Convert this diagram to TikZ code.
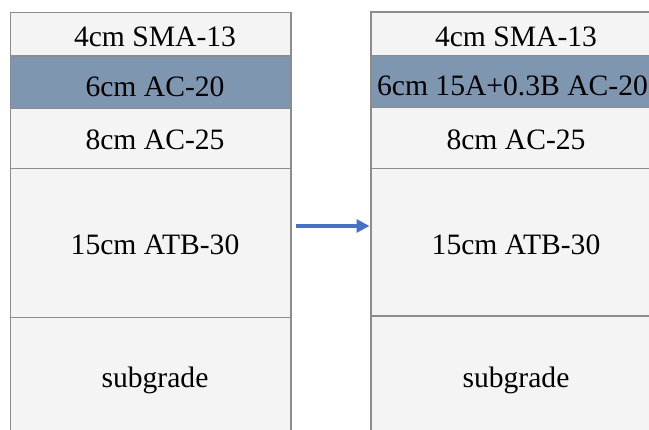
\documentclass[tikz,border=0pt]{standalone}
\usepackage{fontspec}
\setmainfont{Liberation Serif}
\usetikzlibrary{arrows.meta}
\definecolor{layergray}{HTML}{F4F4F4}
\definecolor{layerblue}{HTML}{7F96B1}
\definecolor{edgegray}{HTML}{8C8C8C}
\definecolor{arrowblue}{HTML}{4472C4}
\begin{document}
\begin{tikzpicture}[x=1pt,y=-1pt,
  layer/.style={fill=layergray,draw=edgegray,line width=1.5pt},
  modlayer/.style={layer,fill=layerblue},
  txt/.style={font=\fontsize{29.6}{34}\selectfont,anchor=base,inner sep=0pt},
]
\useasboundingbox (0,0) rectangle (649,430);
\clip (0,0) rectangle (649,430);

% original pavement structure
\draw[layer]    (10.5,12.7) rectangle (291,56);
\draw[modlayer] (10.5,56)   rectangle (291,108.3);
\draw[layer]    (10.5,108.3) rectangle (291,168.3);
\draw[layer]    (10.5,168.3) rectangle (291,317.5);
\draw[layer]    (10.5,317.5) rectangle (291,445);

\node[txt] (l1) at (155,46.5)  {4cm SMA-13};
\node[txt] (l2) at (155,96.5)  {6cm AC-20};
\node[txt] (l3) at (155,150)   {8cm AC-25};
\node[txt] (l4) at (155,254.5) {15cm ATB-30};
\node[txt] (l5) at (155,388)   {subgrade};

% modified pavement structure
\draw[layer]    (371,12.2) rectangle (662,55.3);
\draw[modlayer] (371,55.3) rectangle (662,107.5);
\draw[layer]    (371,107.5) rectangle (662,168.3);
\draw[layer]    (371,168.3) rectangle (662,316);
\draw[layer]    (371,316)   rectangle (662,445);

\node[txt] (r1) at (516,46.5)  {4cm SMA-13};
\node[txt] (r2) at (512.5,96)  {6cm 15A+0.3B AC-20};
\node[txt] (r3) at (516,150)   {8cm AC-25};
\node[txt] (r4) at (516,254.5) {15cm ATB-30};
\node[txt] (r5) at (516,388)   {subgrade};

% transition arrow
\coordinate (a1) at (296,226);
\coordinate (a2) at (369.5,226);
\draw[arrowblue,line width=3.3pt,-{Triangle[length=13pt,width=13pt]}] (a1) -- (a2);
\end{tikzpicture}
\end{document}
